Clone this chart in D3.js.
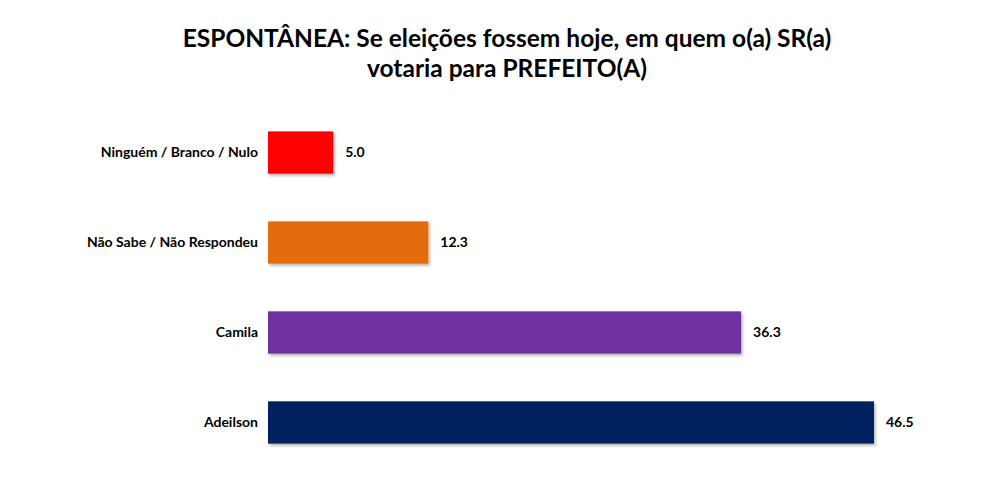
<!DOCTYPE html>
<html>
<head>
<meta charset="utf-8">
<script src="https://cdn.jsdelivr.net/npm/d3@7"></script>
<style>
  html, body { margin: 0; padding: 0; background: #fff; }
  svg { display: block; }
</style>
</head>
<body>
<div id="chart"></div>
<script>
const categories = ['Ninguém / Branco / Nulo', 'Não Sabe / Não Respondeu', 'Camila', 'Adeilson'];
const values = [5.0, 12.3, 36.3, 46.5];
const colors = ['#ff0000', '#e46c0a', '#7030a0', '#002060'];
const titleLines = ['ESPONTÂNEA: Se eleições fossem hoje, em quem o(a) SR(a)', 'votaria para PREFEITO(A)'];

const width = 987, height = 502;
const font = 'Lato, Calibri, sans-serif';

const svg = d3.select('#chart').append('svg')
  .attr('width', width)
  .attr('height', height);

// soft shadow like the office export
const defs = svg.append('defs');
const f = defs.append('filter').attr('id', 'shadow')
  .attr('x', '-5%').attr('y', '-10%').attr('width', '115%').attr('height', '140%');
f.append('feDropShadow')
  .attr('dx', 1.5).attr('dy', 2)
  .attr('stdDeviation', 1.5)
  .attr('flood-color', '#000')
  .attr('flood-opacity', 0.3);

// Title
svg.append('text')
  .attr('x', 507)
  .attr('text-anchor', 'middle')
  .attr('font-family', font)
  .attr('font-weight', 'bold')
  .attr('font-size', '24.5px')
  .attr('fill', '#000')
  .selectAll('tspan')
  .data(titleLines)
  .enter()
  .append('tspan')
  .attr('x', 507)
  .attr('y', (d, i) => 47 + i * 30)
  .text(d => d);

// Scales
const x = d3.scaleLinear()
  .domain([0, 46.5])
  .range([268, 874]);

const y = d3.scaleBand()
  .domain(categories)
  .range([108, 467])
  .paddingInner(0.53)
  .paddingOuter(0.26);

const rows = categories.map((c, i) => ({ cat: c, val: values[i], color: colors[i] }));

svg.selectAll('.bar')
  .data(rows)
  .enter()
  .append('rect')
  .attr('class', 'bar')
  .attr('x', x(0))
  .attr('y', d => y(d.cat))
  .attr('width', d => x(d.val) - x(0))
  .attr('height', y.bandwidth())
  .attr('fill', d => d.color)
  .attr('filter', 'url(#shadow)');

// Category labels
svg.selectAll('.cat-label')
  .data(rows)
  .enter()
  .append('text')
  .attr('class', 'cat-label')
  .attr('x', 258)
  .attr('y', d => y(d.cat) + y.bandwidth() / 2)
  .attr('dy', '0.35em')
  .attr('text-anchor', 'end')
  .attr('font-family', font)
  .attr('font-weight', 'bold')
  .attr('font-size', '14px')
  .attr('fill', '#000')
  .text(d => d.cat);

// Value labels
svg.selectAll('.val-label')
  .data(rows)
  .enter()
  .append('text')
  .attr('class', 'val-label')
  .attr('x', d => x(d.val) + 12)
  .attr('y', d => y(d.cat) + y.bandwidth() / 2)
  .attr('dy', '0.35em')
  .attr('font-family', font)
  .attr('font-weight', 'bold')
  .attr('font-size', '14px')
  .attr('fill', '#000')
  .text(d => d.val.toFixed(1));
</script>
</body>
</html>
